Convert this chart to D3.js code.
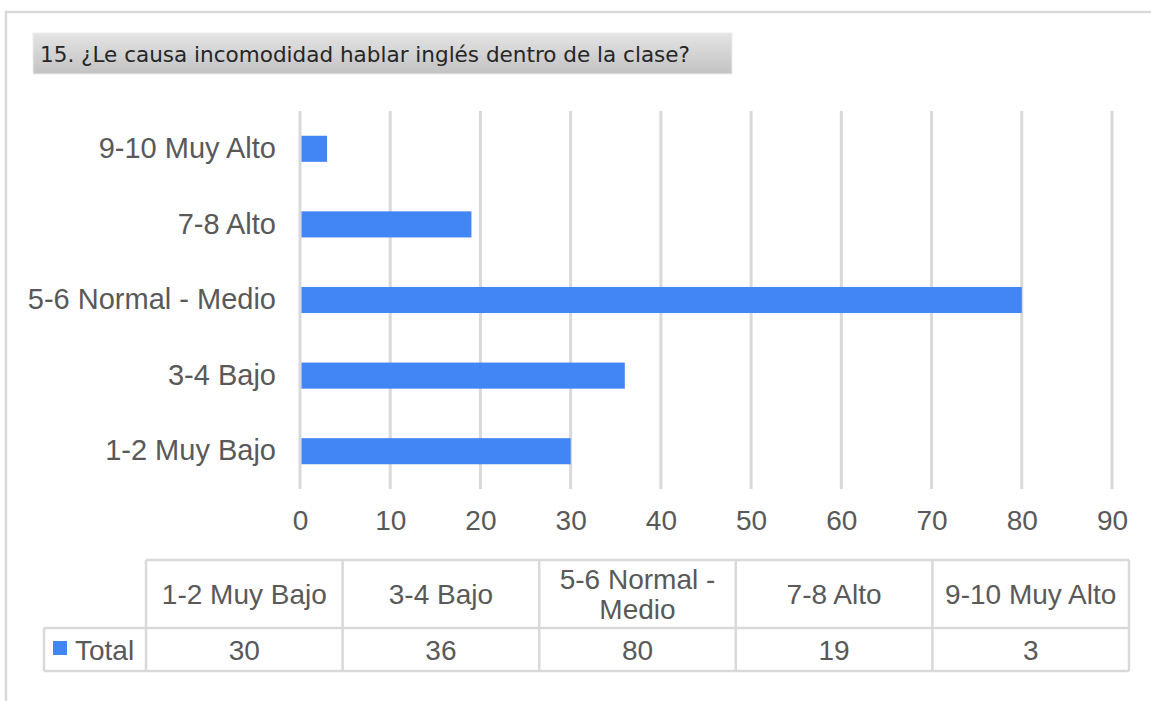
<!DOCTYPE html>
<html>
<head>
<meta charset="utf-8">
<script src="https://cdn.jsdelivr.net/npm/d3@7"></script>
<style>
  html, body { margin: 0; padding: 0; background: #fff; }
  svg { display: block; }
</style>
</head>
<body>
<div id="chart"></div>
<script>
const title = '15. ¿Le causa  incomodidad hablar inglés dentro de la clase?'
const categories = ['1-2 Muy Bajo', '3-4 Bajo', '5-6 Normal - Medio', '7-8 Alto', '9-10 Muy Alto']
const headerLines = [['1-2 Muy Bajo'], ['3-4 Bajo'], ['5-6 Normal -', 'Medio'], ['7-8 Alto'], ['9-10 Muy Alto']]
const totals = [30, 36, 80, 19, 3]
const xTicks = [0, 10, 20, 30, 40, 50, 60, 70, 80, 90]
const seriesName = 'Total'

const width = 1151
const height = 701
const barColor = '#4285f4'
const gridColor = '#d9d9d9'
const textColor = '#595959'
const font = '"Liberation Sans", Arial, sans-serif'

const svg = d3.select('#chart').append('svg')
  .attr('width', width)
  .attr('height', height)

// outer frame (top + left edges visible)
svg.append('path')
  .attr('d', 'M6,' + height + ' V12 H' + width)
  .attr('fill', 'none')
  .attr('stroke', gridColor)
  .attr('stroke-width', 2.5)

// title box
const grad = svg.append('defs').append('linearGradient')
  .attr('id', 'titleGrad')
  .attr('x1', 0).attr('y1', 0).attr('x2', 0).attr('y2', 1)
grad.append('stop').attr('offset', '0%').attr('stop-color', '#e4e4e4')
grad.append('stop').attr('offset', '100%').attr('stop-color', '#c2c2c2')

svg.append('rect')
  .attr('x', 33).attr('y', 33)
  .attr('width', 699).attr('height', 41)
  .attr('fill', 'url(#titleGrad)')
  .attr('stroke', '#ededed')
  .attr('stroke-width', 1)

svg.append('text')
  .attr('x', 40).attr('y', 62)
  .attr('font-family', '"DejaVu Sans Condensed", "DejaVu Sans", sans-serif')
  .attr('font-size', 21)
  .attr('fill', '#262626')
  .attr('textLength', 650)
  .attr('lengthAdjust', 'spacingAndGlyphs')
  .text(title)

// plot
const x = d3.scaleLinear()
  .domain([0, 90])
  .range([300, 1112])

const y = d3.scaleBand()
  .domain(categories.slice().reverse())
  .range([111, 489])
  .paddingInner(0.655)
  .paddingOuter(0.3275)

const grid = svg.append('g')
grid.selectAll('line')
  .data(xTicks)
  .join('line')
  .attr('x1', d => x(d)).attr('x2', d => x(d))
  .attr('y1', 111).attr('y2', 489)
  .attr('stroke', gridColor)
  .attr('stroke-width', 3)

svg.append('g')
  .selectAll('rect')
  .data(categories)
  .join('rect')
  .attr('x', x(0) + 1.5)
  .attr('y', d => y(d))
  .attr('width', (d, i) => x(totals[i]) - x(0) - 1.5)
  .attr('height', y.bandwidth())
  .attr('fill', barColor)

const xAxis = svg.append('g')
  .attr('transform', 'translate(0,489)')
  .call(d3.axisBottom(x).tickValues(xTicks).tickSize(0).tickPadding(21))
xAxis.select('.domain').remove()
xAxis.selectAll('text')
  .attr('font-family', font)
  .attr('font-size', 28)
  .attr('fill', textColor)

const yAxis = svg.append('g')
  .attr('transform', 'translate(300,0)')
  .call(d3.axisLeft(y).tickSize(0).tickPadding(24))
yAxis.select('.domain').remove()
yAxis.selectAll('text')
  .attr('font-family', font)
  .attr('font-size', 29)
  .attr('fill', textColor)

// data table
const tableLeft = 44
const colX = d3.scaleBand()
  .domain(categories)
  .range([146, 1129])
const headTop = 560
const rowTop = 628
const rowBottom = 671

const table = svg.append('g')
  .attr('stroke', gridColor)
  .attr('stroke-width', 2.5)
  .attr('fill', 'none')

table.append('line').attr('x1', 146).attr('x2', 1129).attr('y1', headTop).attr('y2', headTop)
table.append('line').attr('x1', tableLeft).attr('x2', 1129).attr('y1', rowTop).attr('y2', rowTop)
table.append('line').attr('x1', tableLeft).attr('x2', 1129).attr('y1', rowBottom).attr('y2', rowBottom)
table.append('line').attr('x1', tableLeft).attr('x2', tableLeft).attr('y1', rowTop).attr('y2', rowBottom)
table.selectAll('line.col')
  .data(categories.concat(['end']))
  .join('line')
  .attr('class', 'col')
  .attr('x1', (d, i) => i < categories.length ? colX(d) : colX.range()[1])
  .attr('x2', (d, i) => i < categories.length ? colX(d) : colX.range()[1])
  .attr('y1', headTop).attr('y2', rowBottom)

const heads = svg.append('g')
  .selectAll('text')
  .data(categories)
  .join('text')
  .attr('font-family', font)
  .attr('font-size', 28)
  .attr('fill', textColor)
  .attr('text-anchor', 'middle')
  .attr('x', d => colX(d) + colX.bandwidth() / 2)

heads.each(function (d, i) {
  const lines = headerLines[i]
  const t = d3.select(this)
  const lh = 30
  const y0 = (headTop + rowTop) / 2 + 10 - (lines.length - 1) * lh / 2
  lines.forEach((l, j) => {
    t.append('tspan')
      .attr('x', colX(d) + colX.bandwidth() / 2)
      .attr('y', y0 + j * lh)
      .text(l)
  })
})

svg.append('g')
  .selectAll('text')
  .data(categories)
  .join('text')
  .attr('font-family', font)
  .attr('font-size', 28)
  .attr('fill', textColor)
  .attr('text-anchor', 'middle')
  .attr('x', d => colX(d) + colX.bandwidth() / 2)
  .attr('y', (rowTop + rowBottom) / 2 + 10)
  .text((d, i) => totals[i])

svg.append('rect')
  .attr('x', 53).attr('y', 641)
  .attr('width', 14).attr('height', 14)
  .attr('fill', barColor)

svg.append('text')
  .attr('x', 75)
  .attr('y', (rowTop + rowBottom) / 2 + 10)
  .attr('font-family', font)
  .attr('font-size', 28)
  .attr('fill', textColor)
  .text(seriesName)
</script>
</body>
</html>
